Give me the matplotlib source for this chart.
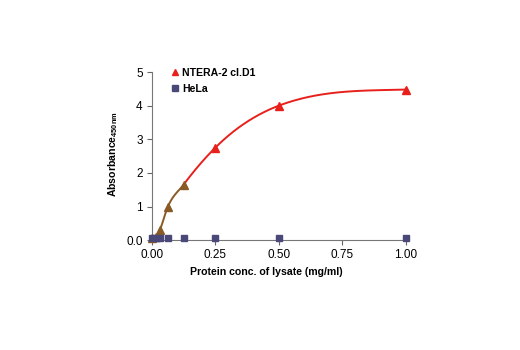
import numpy as np
import matplotlib
matplotlib.use("Agg")
import matplotlib.pyplot as plt
from matplotlib import font_manager

# protein concentration of lysate (mg/ml)
conc = [0.0, 0.0156, 0.031, 0.0625, 0.125, 0.25, 0.5, 1.0]
ntera = [0.05, 0.10, 0.30, 0.98, 1.65, 2.75, 4.00, 4.48]
hela = [0.05, 0.05, 0.05, 0.05, 0.05, 0.05, 0.06, 0.06]

xticks = [0.0, 0.25, 0.5, 0.75, 1.0]
xticklabels = ["0.00", "0.25", "0.50", "0.75", "1.00"]
yticks = [0, 1, 2, 3, 4, 5]
yticklabels = ["0.0", "1", "2", "3", "4", "5"]

names = {f.name for f in font_manager.fontManager.ttflist}
family = "DejaVu Sans"
for cand in ["Liberation Sans Narrow", "Liberation Sans"]:
    if cand in names:
        family = cand
        break
plt.rcParams["font.family"] = [family, "DejaVu Sans"]
plt.rcParams["mathtext.fontset"] = "custom"
plt.rcParams["mathtext.bf"] = family + ":bold"
plt.rcParams["mathtext.rm"] = family + ":bold"


def smooth_line(x, y, xs, end_slope=0.2):
    # cubic Hermite through the points, slopes from neighbouring differences
    x = np.asarray(x, float)
    y = np.asarray(y, float)
    h = np.diff(x)
    d = np.diff(y) / h
    m = np.zeros_like(y)
    m[0] = d[0]
    for k in range(1, len(x) - 1):
        s = (h[k] * d[k - 1] + h[k - 1] * d[k]) / (h[k - 1] + h[k])
        m[k] = min(s, 3 * d[k - 1], 3 * d[k])
    m[-1] = end_slope
    out = np.empty_like(xs)
    for i, xv in enumerate(xs):
        k = min(np.searchsorted(x, xv, side="right") - 1, len(x) - 2)
        t = (xv - x[k]) / h[k]
        h00 = 2 * t**3 - 3 * t**2 + 1
        h10 = t**3 - 2 * t**2 + t
        h01 = -2 * t**3 + 3 * t**2
        h11 = t**3 - t**2
        out[i] = h00 * y[k] + h10 * h[k] * m[k] + h01 * y[k + 1] + h11 * h[k] * m[k + 1]
    return out


fig = plt.figure(figsize=(5.2, 3.5), dpi=100)
ax = fig.add_axes([0.292, 0.314, 0.488, 0.48])

red = "#e8201c"
brown = "#8a5a26"
slate = "#4a4878"

xs = np.linspace(0, 1, 500)
ys = smooth_line(conc, ntera, xs)
low = xs <= 0.125
ax.plot(xs[~low], ys[~low], color=red, lw=1.4, zorder=2)
ax.plot(xs[low], ys[low], color=brown, lw=1.4, zorder=2)

ax.plot(conc[5:], ntera[5:], "^", color=red, ms=5.5, ls="none", zorder=3, clip_on=False)
ax.plot(conc[:5], ntera[:5], "^", color=brown, ms=5.5, ls="none", zorder=3, clip_on=False)
ax.plot(conc, hela, "s", color=slate, ms=4.5, ls="none", zorder=4, clip_on=False)

# legend handles
h1, = ax.plot([], [], "^", color=red, ms=5)
h2, = ax.plot([], [], "s", color=slate, ms=4.5)
ax.legend([h1, h2], ["NTERA-2 cl.D1", "HeLa"], loc="upper left",
          bbox_to_anchor=(0.06, 1.05), frameon=False,
          prop={"size": 7.6, "weight": "bold"}, handlelength=0.7,
          handletextpad=0.3, labelspacing=0.55, borderaxespad=0)

ax.set_xlim(0, 1)
ax.set_ylim(0, 5)
ax.set_xticks(xticks)
ax.set_xticklabels(xticklabels)
ax.set_yticks(yticks)
ax.set_yticklabels(yticklabels)
ax.tick_params(labelsize=8.5, length=3.5, width=0.8, color="#666666", pad=3)
for s in ("top", "right"):
    ax.spines[s].set_visible(False)
for s in ("left", "bottom"):
    ax.spines[s].set_color("#777777")
    ax.spines[s].set_linewidth(0.8)

ax.set_xlabel("Protein conc. of lysate (mg/ml)", fontsize=7.6, fontweight="bold")
ax.set_ylabel(r"Absorbance$_{\mathbf{450nm}}$", fontsize=7.6, fontweight="bold")
ax.xaxis.set_label_coords(0.453, -0.16)
ax.yaxis.set_label_coords(-0.125, 0.51)

fig.savefig("out.png", dpi=100)
